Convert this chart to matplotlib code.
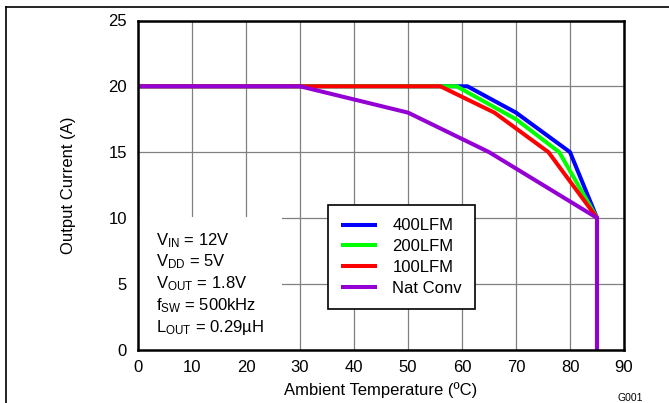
import matplotlib
matplotlib.use("Agg")
import matplotlib.pyplot as plt
from matplotlib.lines import Line2D
from matplotlib.patches import Rectangle

plt.rcParams['font.family'] = ['Liberation Sans', 'DejaVu Sans']
plt.rcParams['mathtext.fontset'] = 'custom'
plt.rcParams['mathtext.rm'] = 'Liberation Sans'
plt.rcParams['mathtext.it'] = 'Liberation Sans:italic'
plt.rcParams['mathtext.bf'] = 'Liberation Sans:bold'

# Data
temp_400 = [0, 61, 70, 80, 85, 85]
curr_400 = [20, 20, 18, 15, 10, 0]
temp_200 = [0, 59, 70, 78, 85, 85]
curr_200 = [20, 20, 17.5, 15, 10, 0]
temp_100 = [0, 56, 66, 76, 85, 85]
curr_100 = [20, 20, 18, 15, 10, 0]
temp_nat = [0, 30, 50, 65, 85, 85]
curr_nat = [20, 20, 18, 15, 10, 0]

series_labels = ['400LFM', '200LFM', '100LFM', 'Nat Conv']
series_colors = ['#0000FF', '#00FF00', '#FF0000', '#9400D3']

x_ticks = [0, 10, 20, 30, 40, 50, 60, 70, 80, 90]
y_ticks = [0, 5, 10, 15, 20, 25]

conditions = [r'V$_{\rm IN}$ = 12V',
              r'V$_{\rm DD}$ = 5V',
              r'V$_{\rm OUT}$ = 1.8V',
              r'f$_{\rm SW}$ = 500kHz',
              r'L$_{\rm OUT}$ = 0.29µH']

fig = plt.figure(figsize=(6.69, 4.03), dpi=100)
ax = fig.add_axes([138/669, 1-349.5/403, (624-138)/669, (349.5-20.5)/403])

xs = [temp_400, temp_200, temp_100, temp_nat]
ys = [curr_400, curr_200, curr_100, curr_nat]
handles = []
for i, (x, y, lab, col) in enumerate(zip(xs, ys, series_labels, series_colors)):
    h, = ax.plot(x, y, color=col, lw=2.9, label=lab, zorder=3 + i,
                 solid_joinstyle='miter', solid_capstyle='butt')
    handles.append(h)

ax.set_xlim(0, 90)
ax.set_ylim(0, 25)
ax.set_xticks(x_ticks)
ax.set_yticks(y_ticks)
ax.grid(True, color='#808080', lw=0.9)
ax.set_axisbelow(True)
ax.tick_params(axis='both', length=0, labelsize=12, colors='black')
ax.tick_params(axis='x', pad=7.5)
ax.tick_params(axis='y', pad=8)
for s in ax.spines.values():
    s.set_linewidth(1.8)
    s.set_color('black')
    s.set_zorder(10)

ax.set_xlabel('Ambient Temperature (ºC)', fontsize=12)
ax.set_ylabel('Output Current (A)', fontsize=12)
ax.xaxis.set_label_coords(0.5, -0.1003)
ax.yaxis.set_label_coords(-0.127, 0.5)

# white box behind conditions
ax.add_patch(Rectangle((0, 0), (282-138)/486, (349.5-217)/329, transform=ax.transAxes,
                       facecolor='white', edgecolor='none', zorder=2))
baselines = [245, 266.7, 288.3, 310, 331.7]
for txt, b in zip(conditions, baselines):
    ax.text((156-138)/486, (349.5-b)/329, txt, transform=ax.transAxes, fontsize=12,
            ha='left', va='baseline', zorder=8)

leg = ax.legend(handles=handles, loc='upper left',
                bbox_to_anchor=((328-138)/486, (349.5-205)/329), borderaxespad=0,
                fontsize=12, handlelength=2.13, handletextpad=0.94, borderpad=0.8,
                labelspacing=0.35, fancybox=False, framealpha=1, edgecolor='black')
leg.get_frame().set_linewidth(1.2)
leg.set_zorder(9)

fig.text(617/669, 1-401/403, 'G001', fontsize=7.5, ha='left', va='baseline')

# outer frame lines (top and left)
fig.add_artist(Line2D([6/669, 1], [1-7/403, 1-7/403], color='black', lw=1.2,
                      transform=fig.transFigure))
fig.add_artist(Line2D([6/669, 6/669], [0, 1-7/403], color='black', lw=1.2,
                      transform=fig.transFigure))

fig.savefig('out.png', dpi=100)
